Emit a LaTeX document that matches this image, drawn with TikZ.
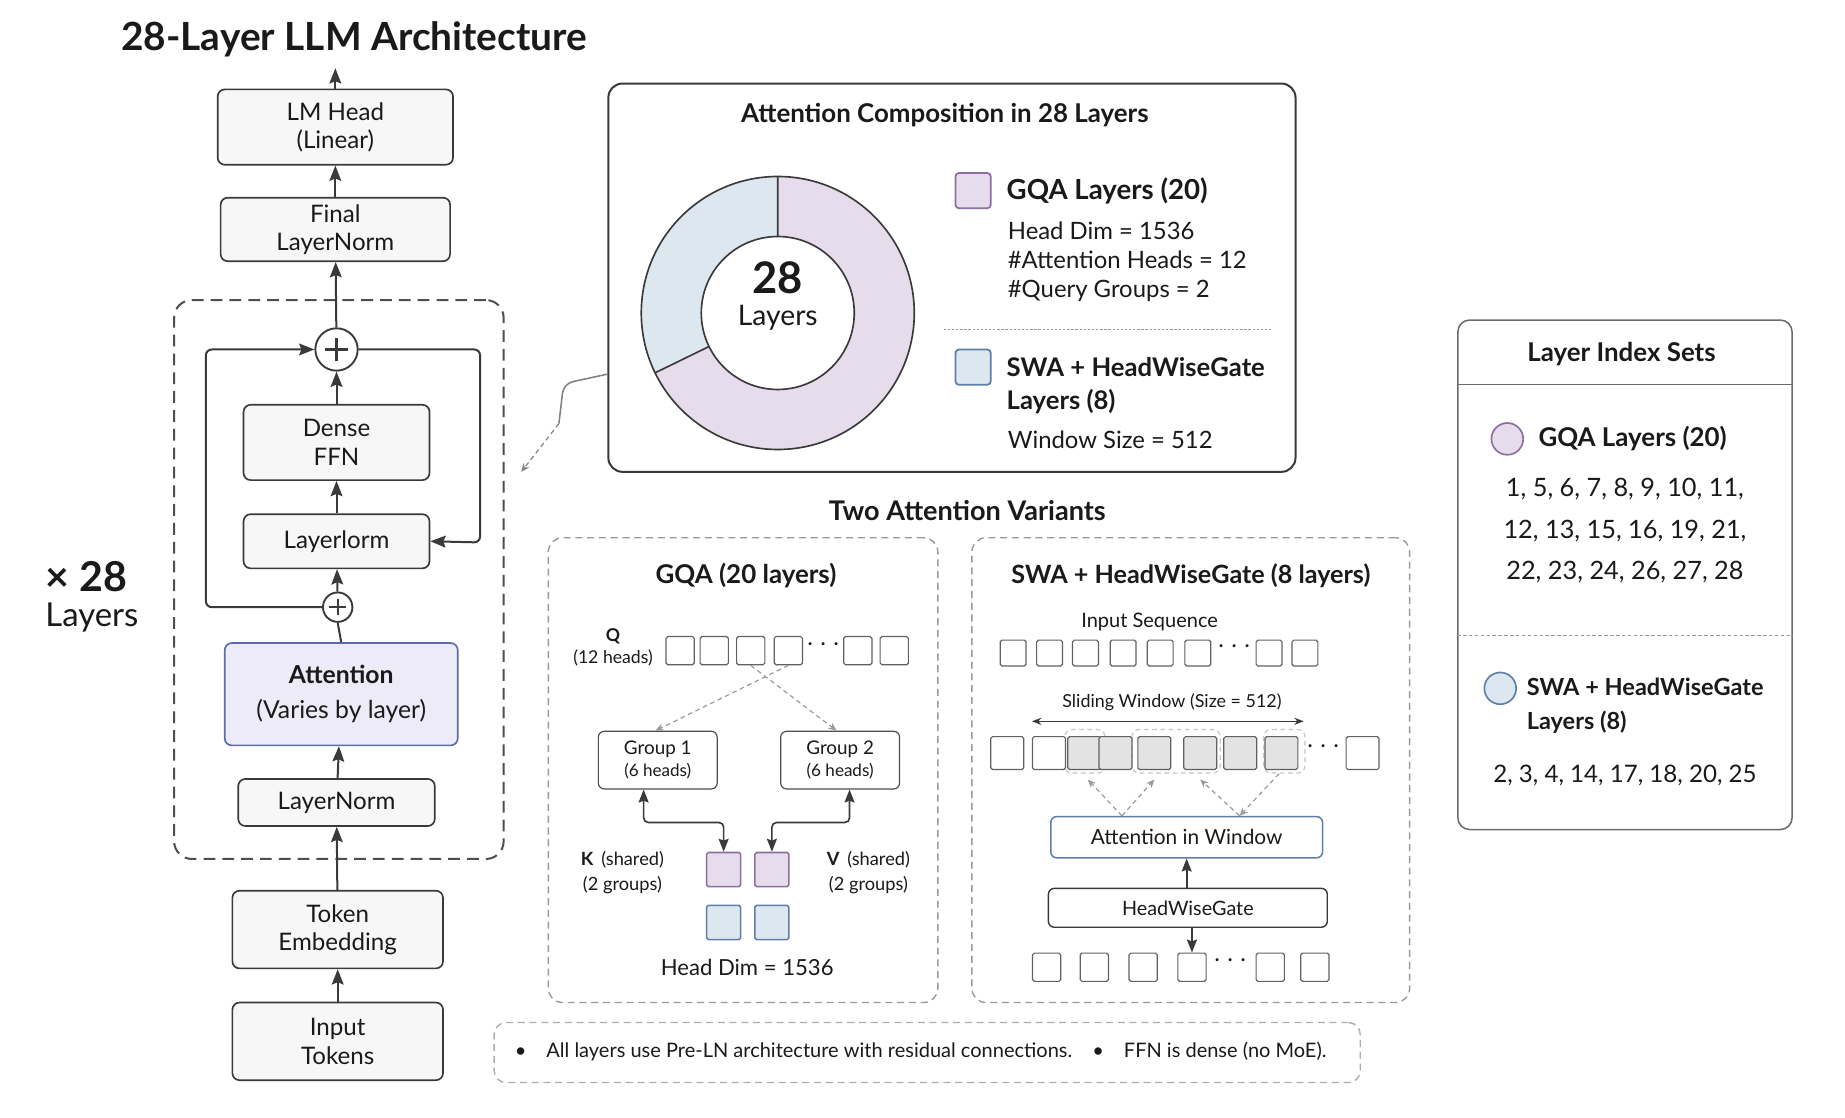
\documentclass[tikz,border=0pt]{standalone}
\usepackage{fontspec}
\setmainfont{Lato}
\usetikzlibrary{arrows.meta,calc}
\definecolor{boxc}{HTML}{3A3A3A}
\definecolor{boxfill}{HTML}{F7F7F7}
\definecolor{lavfill}{HTML}{ECEBF7}
\definecolor{lavdraw}{HTML}{5B6CAE}
\definecolor{purpfill}{HTML}{E6DCEC}
\definecolor{purpdraw}{HTML}{8E6EA0}
\definecolor{bluefill}{HTML}{DDE7F0}
\definecolor{bluedraw}{HTML}{5F7EA8}
\definecolor{dashgray}{HTML}{9A9A9A}
\definecolor{txt}{HTML}{1A1A1A}
\newcommand\fsz[2]{\fontsize{#1}{#2}\selectfont}
\begin{document}
\begin{tikzpicture}[x=1pt,y=-1pt,
  every node/.style={text=txt},
  box/.style={draw=boxc, fill=boxfill, rounded corners=6pt, line width=1.4pt, align=center, inner sep=0pt, font=\fsz{20.5}{24}},
  arr/.style={-{Stealth[length=13pt,width=10pt,inset=2pt]}, line width=1.7pt, draw=boxc},
  plusc/.style={circle, draw=boxc, fill=white, line width=1.6pt, inner sep=0pt},
  sq/.style={draw=boxc!80, fill=white, line width=1pt, rounded corners=1.5pt, inner sep=0pt},
  gdash/.style={draw=dashgray, line width=1.2pt, dash pattern=on 6pt off 4pt, rounded corners=12pt},
  darr/.style={-{Stealth[length=7pt,width=6pt]}, draw=dashgray, line width=1pt, dash pattern=on 4pt off 3pt},
  hd/.style={font=\fsz{22}{26}\bfseries},
  sm/.style={font=\fsz{14.5}{18}},
  dotsn/.style={font=\fsz{25}{25}, inner sep=0pt},
  barr/.style={-{Stealth[length=11pt,width=8.5pt,inset=1.5pt]}, line width=1.4pt, draw=boxc},
]
\useasboundingbox (0,0) rectangle (1568,950);
\fill[white] (0,0) rectangle (1568,950);

% ---------- Left column ----------
\node[font=\fsz{33}{37}\bfseries] (title) at (301,33) {28-Layer LLM Architecture};

\node[box, minimum width=200pt, minimum height=64pt] (lmhead) at (285,108) {LM Head\\(Linear)};
\node[box, minimum width=195pt, minimum height=54pt] (finalln) at (285,195) {Final\\LayerNorm};
\coordinate (out) at (285,58);

\node[draw=boxc!90, line width=1.7pt, dash pattern=on 10pt off 6pt, rounded corners=15pt, minimum width=280pt, minimum height=475pt] (block) at (288,492.5) {};

\node[plusc, minimum size=36pt] (plustop) at (286,297) {};
\draw[line width=1.8pt, draw=boxc] ([xshift=-10pt]plustop.center) -- ([xshift=10pt]plustop.center) ([yshift=-10pt]plustop.center) -- ([yshift=10pt]plustop.center);
\node[box, minimum width=158pt, minimum height=64pt] (ffn) at (286,376) {Dense\\FFN};
\node[box, minimum width=158pt, minimum height=46pt] (lnorm1) at (286,460) {Layerlorm};
\node[plusc, minimum size=25pt] (pluslow) at (287,516) {};
\draw[line width=1.6pt, draw=boxc] ([xshift=-7pt]pluslow.center) -- ([xshift=7pt]pluslow.center) ([yshift=-7pt]pluslow.center) -- ([yshift=7pt]pluslow.center);
\node[box, fill=lavfill, draw=lavdraw, minimum width=198pt, minimum height=87pt, font=\fsz{21}{30}] (attn) at (290,590) {\bfseries Attention\\(Varies by layer)};
\node[box, minimum width=167pt, minimum height=40pt] (lnorm2) at (286,682) {LayerNorm};
\node[box, minimum width=179pt, minimum height=66pt] (tokemb) at (287,790) {Token\\Embedding};
\node[box, minimum width=179pt, minimum height=66pt] (inp) at (287,885) {Input\\Tokens};

\draw[arr] (inp) -- (tokemb);
\draw[arr] (tokemb) -- (lnorm2);
\draw[arr] (lnorm2) -- (attn);
\draw[line width=1.7pt, draw=boxc] (attn.north) -- (pluslow.south);
\draw[arr] (pluslow) -- (lnorm1);
\draw[arr] (lnorm1) -- (ffn);
\draw[arr] (ffn) -- (plustop);
\draw[arr] (plustop) -- (finalln);
\draw[arr] (finalln) -- (lmhead);
\draw[arr] (lmhead) -- (out);
\coordinate (rl1) at (175,516);
\coordinate (rl2) at (175,297);
\draw[arr, rounded corners=5pt] (pluslow.west) -- (rl1) -- (rl2) -- (plustop.west);
\coordinate (rr1) at (408,297);
\coordinate (rr2) at (408,461);
\draw[arr, rounded corners=5pt] (plustop.east) -- (rr1) -- (rr2) -- (lnorm1.east);

\node[font=\fsz{35}{38}\bfseries, anchor=west] (x28) at (35,490) {× 28};
\node[font=\fsz{28}{30}, anchor=west] (x28l) at (35,525) {Layers};

% ---------- Donut panel ----------
\node[draw=boxc, line width=1.7pt, rounded corners=12pt, minimum width=584pt, minimum height=330pt] (donutbox) at (809,236) {};
\node[hd] (dtitle) at (803,98) {Attention Composition in 28 Layers};
\begin{scope}[shift={(661,266)},yscale=-1]
  \fill[bluefill] (90:116) arc[start angle=90, end angle=206, radius=116] -- (206:65) arc[start angle=206, end angle=90, radius=65] -- cycle;
  \fill[purpfill] (206:116) arc[start angle=206, end angle=450, radius=116] -- (90:65) arc[start angle=90, end angle=-154, radius=65] -- cycle;
  \draw[line width=1.4pt, draw=boxc] (0,0) circle[radius=116];
  \draw[line width=1.4pt, draw=boxc] (0,0) circle[radius=65];
  \draw[line width=1.4pt, draw=boxc] (90:65) -- (90:116) (206:65) -- (206:116);
\end{scope}
\node[font=\fsz{37}{40}\bfseries] (d28) at (661,236) {28};
\node[font=\fsz{24}{26}] (dlay) at (661,270) {Layers};

\node[draw=purpdraw, fill=purpfill, line width=1.5pt, rounded corners=3pt, minimum size=30pt, inner sep=0pt] (lgq) at (827,162) {};
\node[anchor=west, font=\fsz{23.5}{27}\bfseries] (lgqt) at (852,162) {GQA Layers (20)};
\node[anchor=west, font=\fsz{20.3}{24}] (lgq1) at (853,196) {Head Dim = 1536};
\node[anchor=west, font=\fsz{20.3}{24}] (lgq2) at (853,221) {\#Attention Heads = 12};
\node[anchor=west, font=\fsz{20.3}{24}] (lgq3) at (853,247) {\#Query Groups = 2};
\draw[draw=dashgray, line width=1pt, dash pattern=on 2pt off 1.5pt] (802,280) -- (1080,280);
\node[draw=bluedraw, fill=bluefill, line width=1.5pt, rounded corners=3pt, minimum size=30pt, inner sep=0pt] (lsw) at (827,312) {};
\node[anchor=west, font=\fsz{21.8}{27}\bfseries] (lswt) at (852,312) {SWA + HeadWiseGate};
\node[anchor=west, font=\fsz{21.8}{27}\bfseries] (lswt2) at (852,341) {Layers (8)};
\node[anchor=west, font=\fsz{20.3}{24}] (lsw1) at (853,374) {Window Size = 512};

\coordinate (cbend1) at (479,326);
\coordinate (cbend2) at (475,360);
\coordinate (cend) at (443,401);
\draw[draw=gray, line width=1.3pt, rounded corners=8pt] ([yshift=-82pt]donutbox.west) -- (cbend1) -- (cbend2);
\draw[darr, draw=gray] (cbend2) -- (cend);

% ---------- Two attention variants ----------
\node[hd, font=\fsz{23}{27}\bfseries] (vtitle) at (822,434) {Two Attention Variants};

% GQA panel
\node[gdash, minimum width=331pt, minimum height=395pt] (gqabox) at (631.5,654.5) {};
\node[hd] (gqat) at (634,489) {GQA (20 layers)};
\node[font=\fsz{15}{18}\bfseries] (ql) at (521,541) {Q};
\node[font=\fsz{15}{18}] (ql2) at (521,559) {(12 heads)};
\foreach \i/\x in {1/578,2/607,3/638,4/670,5/729,6/760}
  \node[sq, minimum size=24pt] (q\i) at (\x,553) {};
\node[dotsn] (qdots) at (700,548) {$\cdots$};
\node[draw=boxc!90, fill=white, line width=1pt, rounded corners=5pt, minimum width=101pt, minimum height=49pt, align=center, inner sep=0pt, font=\fsz{16}{19}] (g1) at (559,646) {Group 1\\{\fsz{14.5}{17}(6 heads)}};
\node[draw=boxc!90, fill=white, line width=1pt, rounded corners=5pt, minimum width=101pt, minimum height=49pt, align=center, inner sep=0pt, font=\fsz{16}{19}] (g2) at (714,646) {Group 2\\{\fsz{14.5}{17}(6 heads)}};
\draw[darr] (q3.south) -- ([xshift=-3pt]g2.north);
\draw[darr] (q4.south) -- ([xshift=-2pt]g1.north);
\node[draw=purpdraw, fill=purpfill, line width=1.3pt, rounded corners=1.5pt, minimum size=29pt, inner sep=0pt] (kq) at (615,739) {};
\node[draw=purpdraw, fill=purpfill, line width=1.3pt, rounded corners=1.5pt, minimum size=29pt, inner sep=0pt] (vq) at (656,739) {};
\node[draw=bluedraw, fill=bluefill, line width=1.3pt, rounded corners=1.5pt, minimum size=29pt, inner sep=0pt] (kb) at (615,784) {};
\node[draw=bluedraw, fill=bluefill, line width=1.3pt, rounded corners=1.5pt, minimum size=29pt, inner sep=0pt] (vb) at (656,784) {};
\draw[{Stealth[length=11pt,width=8.5pt,inset=1.5pt]}-{Stealth[length=11pt,width=8.5pt,inset=1.5pt]}, line width=1.4pt, draw=boxc, rounded corners=4pt] ([xshift=-12pt]g1.south) -- ++(0,28) -| (kq.north);
\draw[{Stealth[length=11pt,width=8.5pt,inset=1.5pt]}-{Stealth[length=11pt,width=8.5pt,inset=1.5pt]}, line width=1.4pt, draw=boxc, rounded corners=4pt] ([xshift=8pt]g2.south) -- ++(0,28) -| (vq.north);
\node[font=\fsz{15.5}{18}] (kl) at (529,731) {\textbf{K}\, (shared)};
\node[font=\fsz{15.5}{18}] (kl2) at (529,752) {(2 groups)};
\node[font=\fsz{15.5}{18}] (vl) at (738,731) {\textbf{V}\, (shared)};
\node[font=\fsz{15.5}{18}] (vl2) at (738,752) {(2 groups)};
\node[font=\fsz{18.8}{22}] (hdim) at (635,822) {Head Dim = 1536};

% SWA panel
\node[gdash, minimum width=372pt, minimum height=395pt] (swabox) at (1012,654.5) {};
\node[hd, font=\fsz{21.4}{26}\bfseries] (swat) at (1012,489) {SWA + HeadWiseGate (8 layers)};
\node[font=\fsz{17}{20}] (inseq) at (977,529) {Input Sequence};
\foreach \i/\x in {1/861,2/892,3/922.5,4/954.5,5/986,6/1018,7/1078.5,8/1109}
  \node[sq, minimum size=22pt] (s\i) at (\x,555) {};
\node[dotsn] (sdots) at (1049,550) {$\cdots$};
\node[font=\fsz{15.2}{18}] (swl) at (996,597) {Sliding Window (Size = 512)};
\coordinate (swL) at (877,613);
\coordinate (swR) at (1108,613);
\draw[{Stealth[length=8pt,width=6pt]}-{Stealth[length=8pt,width=6pt]}, line width=1.3pt, draw=boxc] (swL) -- (swR);
\foreach \x/\y/\w in {905/620/34,962/620/75,1074/620/35}
  \draw[draw=gray!45, line width=1pt, dash pattern=on 4pt off 3pt, rounded corners=6pt] (\x,\y) rectangle ++(\w,37);
\foreach \i/\x in {1/856,2/891.5,9/1158}
  \node[sq, minimum size=28pt] (w\i) at (\x,640) {};
\foreach \i/\x in {3/921.5,4/948,5/981,6/1020,7/1054,8/1089}
  \node[sq, fill=gray!22, minimum size=28pt] (w\i) at (\x,640) {};
\node[dotsn] (wdots) at (1124.5,635) {$\cdots$};
\node[draw=bluedraw, fill=white, line width=1.3pt, rounded corners=5pt, minimum width=231pt, minimum height=35pt, inner sep=0pt, font=\fsz{17.7}{20}] (attwin) at (1008.5,711.5) {Attention in Window};
\node[draw=boxc, fill=white, line width=1.2pt, rounded corners=5pt, minimum width=237pt, minimum height=33pt, inner sep=0pt, font=\fsz{16.8}{20}] (hwg) at (1009.5,771.5) {HeadWiseGate};
\coordinate (pa) at ($(attwin.north)+(-55,0)$);
\coordinate (pb) at ($(attwin.north)+(45,0)$);
\draw[darr] (pa) -- ([xshift=3pt,yshift=-8pt]w3.south);
\draw[darr] (pa) -- ([yshift=-8pt]w5.south);
\draw[darr] (pb) -- ([yshift=-8pt]w6.south);
\draw[darr] ([xshift=-2pt,yshift=-3pt]w8.south) -- (pb);
\foreach \i/\x in {1/889.5,2/930,3/971.5,4/1013,5/1079.5,6/1117.5}
  \node[sq, minimum size=24pt] (b\i) at (\x,822) {};
\node[dotsn] (bdots) at (1046,817) {$\cdots$};
\draw[barr] (hwg.north -| attwin.south) -- (attwin.south);
\draw[barr] (hwg.south -| b4.north) -- (b4.north);

% ---------- Layer index sets ----------
\node[draw=boxc!75, line width=1.3pt, rounded corners=10pt, minimum width=284pt, minimum height=433pt] (lis) at (1381,488.5) {};
\node[hd] (list) at (1378,301) {Layer Index Sets};
\draw[draw=boxc!75, line width=1.2pt] (lis.west |- 0,327) -- (lis.east |- 0,327);
\node[circle, draw=purpdraw, fill=purpfill, line width=1.4pt, minimum size=27pt, inner sep=0pt] (cg) at (1281,373) {};
\node[anchor=west, font=\fsz{22}{26}\bfseries] (cgt) at (1304,373) {GQA Layers (20)};
\node[font=\fsz{21.5}{35}, align=center] (cgn) at (1381,451) {1, 5, 6, 7, 8, 9, 10, 11,\\12, 13, 15, 16, 19, 21,\\22, 23, 24, 26, 27, 28};
\draw[draw=dashgray, line width=1pt, dash pattern=on 3pt off 2pt] (lis.west |- 0,540) -- (lis.east |- 0,540);
\node[circle, draw=bluedraw, fill=bluefill, line width=1.4pt, minimum size=27pt, inner sep=0pt] (cs) at (1275,585) {};
\node[anchor=west, font=\fsz{20}{29}\bfseries, align=left] (cst) at (1294,599.5) {SWA + HeadWiseGate\\Layers (8)};
\node[font=\fsz{20.5}{24}] (csn) at (1381,659) {2, 3, 4, 14, 17, 18, 20, 25};

% ---------- Note ----------
\node[draw=dashgray!80, line width=1.2pt, dash pattern=on 6pt off 4pt, rounded corners=10pt, minimum width=736pt, minimum height=51pt] (note) at (788,894.5) {};
\node[anchor=west, font=\fsz{17}{20}] (notet) at (434,894) {•\quad All layers use Pre-LN architecture with residual connections.\quad •\quad FFN is dense (no MoE).};
\end{tikzpicture}
\end{document}
